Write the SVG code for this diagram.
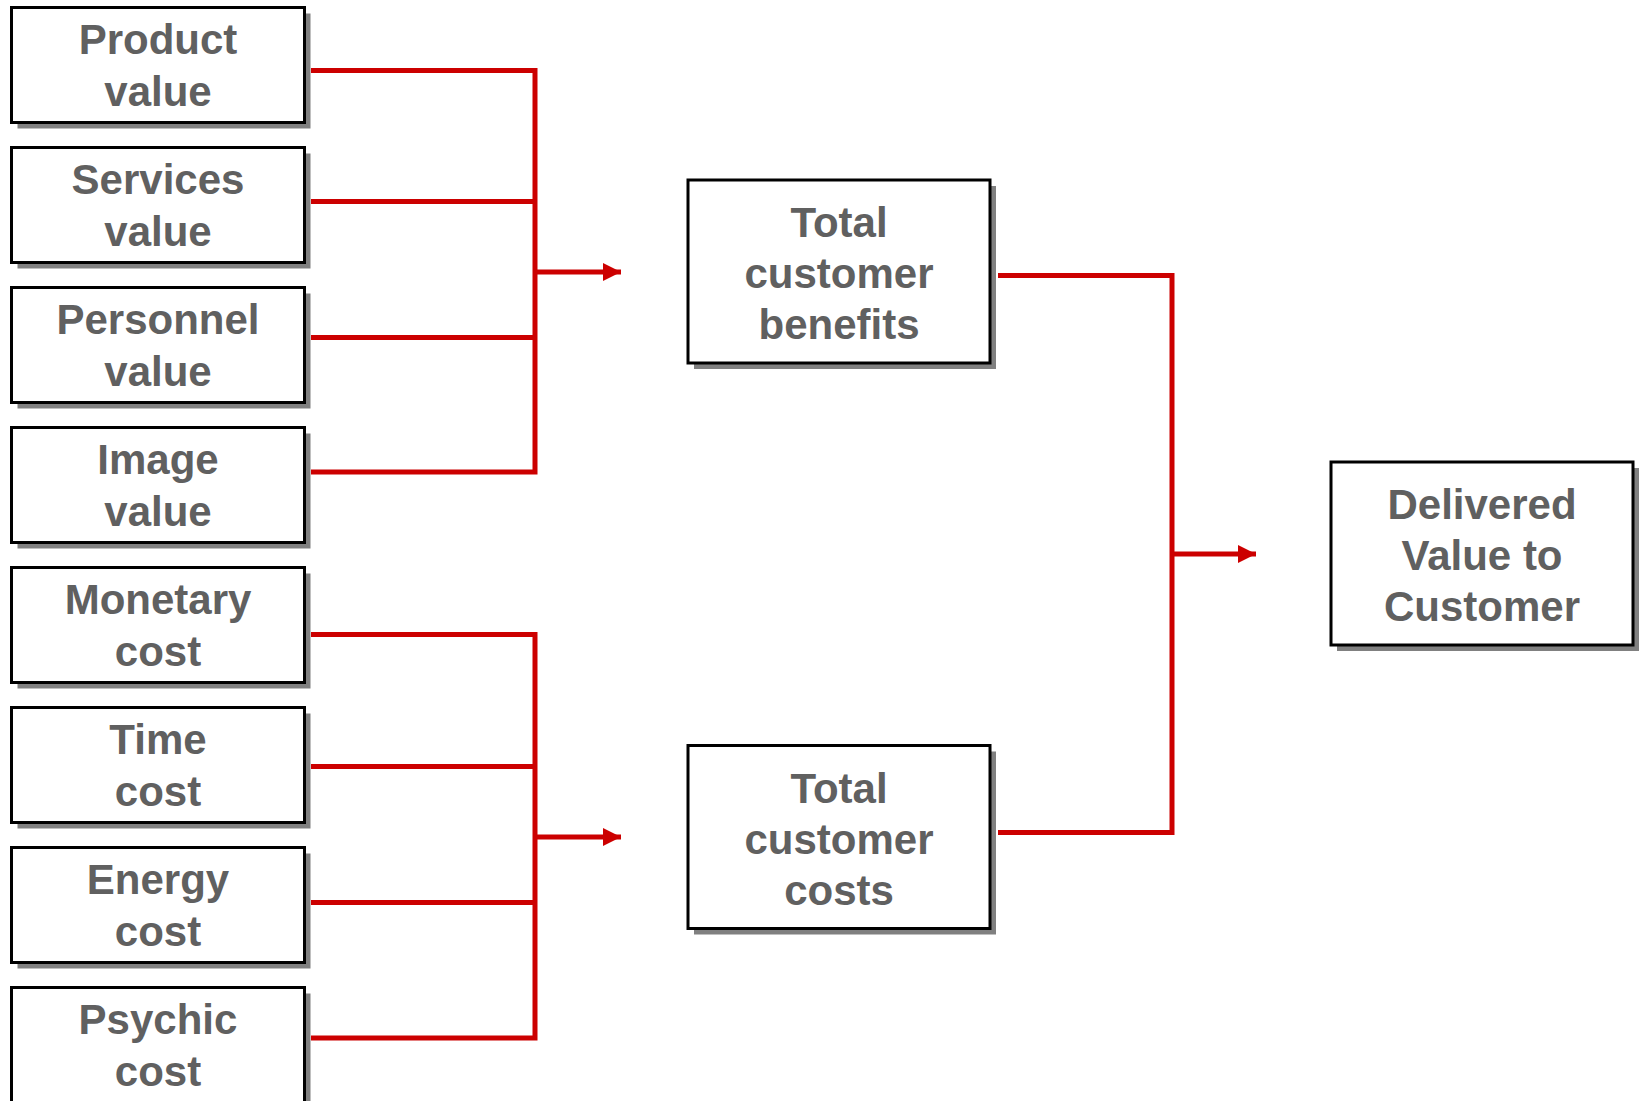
<svg xmlns="http://www.w3.org/2000/svg" width="1642" height="1101" viewBox="0 0 1642 1101">
<style>
.box{fill:#fff;stroke:#000;stroke-width:3}
.sh{fill:#808080}
.t{font-family:"Liberation Sans",Arial,sans-serif;font-weight:bold;font-size:42px;fill:#606060;text-anchor:middle}
.c{fill:none;stroke:#CC0000;stroke-width:5;stroke-linejoin:miter}
</style>
<defs>
<marker id="ah" markerWidth="18" markerHeight="18" refX="18" refY="9" orient="auto" markerUnits="userSpaceOnUse">
<path d="M0,0 L18,9 L0,18 Z" fill="#CC0000"/>
</marker>
</defs>
<rect width="1642" height="1101" fill="#fff"/>
<g id="connectors">
<path class="c" d="M311,70.5 H535 V472 H311"/>
<path class="c" d="M311,201.5 H535"/>
<path class="c" d="M311,337.5 H535"/>
<path class="c" d="M535,272 H621" marker-end="url(#ah)"/>
<path class="c" d="M311,634.5 H535 V1038 H311"/>
<path class="c" d="M311,766.5 H535"/>
<path class="c" d="M311,902.5 H535"/>
<path class="c" d="M535,837 H621" marker-end="url(#ah)"/>
<path class="c" d="M998,275.5 H1172 V832.5 H998"/>
<path class="c" d="M1172,554 H1256" marker-end="url(#ah)"/>
</g>
<g id="product-value">
<rect class="sh" x="17.5" y="13.5" width="293" height="115"/>
<rect class="box" x="11.5" y="7.5" width="293" height="115"/>
<text class="t" x="158" y="54">Product</text>
<text class="t" x="158" y="105.5">value</text>
</g>
<g id="services-value">
<rect class="sh" x="17.5" y="153.5" width="293" height="115"/>
<rect class="box" x="11.5" y="147.5" width="293" height="115"/>
<text class="t" x="158" y="194">Services</text>
<text class="t" x="158" y="245.5">value</text>
</g>
<g id="personnel-value">
<rect class="sh" x="17.5" y="293.5" width="293" height="115"/>
<rect class="box" x="11.5" y="287.5" width="293" height="115"/>
<text class="t" x="158" y="334">Personnel</text>
<text class="t" x="158" y="385.5">value</text>
</g>
<g id="image-value">
<rect class="sh" x="17.5" y="433.5" width="293" height="115"/>
<rect class="box" x="11.5" y="427.5" width="293" height="115"/>
<text class="t" x="158" y="474">Image</text>
<text class="t" x="158" y="525.5">value</text>
</g>
<g id="monetary-cost">
<rect class="sh" x="17.5" y="573.5" width="293" height="115"/>
<rect class="box" x="11.5" y="567.5" width="293" height="115"/>
<text class="t" x="158" y="614">Monetary</text>
<text class="t" x="158" y="665.5">cost</text>
</g>
<g id="time-cost">
<rect class="sh" x="17.5" y="713.5" width="293" height="115"/>
<rect class="box" x="11.5" y="707.5" width="293" height="115"/>
<text class="t" x="158" y="754">Time</text>
<text class="t" x="158" y="805.5">cost</text>
</g>
<g id="energy-cost">
<rect class="sh" x="17.5" y="853.5" width="293" height="115"/>
<rect class="box" x="11.5" y="847.5" width="293" height="115"/>
<text class="t" x="158" y="894">Energy</text>
<text class="t" x="158" y="945.5">cost</text>
</g>
<g id="psychic-cost">
<rect class="sh" x="17.5" y="993.5" width="293" height="115"/>
<rect class="box" x="11.5" y="987.5" width="293" height="115"/>
<text class="t" x="158" y="1034">Psychic</text>
<text class="t" x="158" y="1085.5">cost</text>
</g>
<g id="total-customer-benefits">
<rect class="sh" x="694" y="186" width="302" height="183"/>
<rect class="box" x="688" y="180" width="302" height="183"/>
<text class="t" x="839" y="237">Total</text>
<text class="t" x="839" y="288">customer</text>
<text class="t" x="839" y="339">benefits</text>
</g>
<g id="total-customer-costs">
<rect class="sh" x="694" y="751.5" width="302" height="183"/>
<rect class="box" x="688" y="745.5" width="302" height="183"/>
<text class="t" x="839" y="802.5">Total</text>
<text class="t" x="839" y="853.5">customer</text>
<text class="t" x="839" y="904.5">costs</text>
</g>
<g id="delivered-value">
<rect class="sh" x="1337" y="468" width="302" height="183"/>
<rect class="box" x="1331" y="462" width="302" height="183"/>
<text class="t" x="1482" y="518.5">Delivered</text>
<text class="t" x="1482" y="569.5">Value to</text>
<text class="t" x="1482" y="620.5">Customer</text>
</g>
</svg>
